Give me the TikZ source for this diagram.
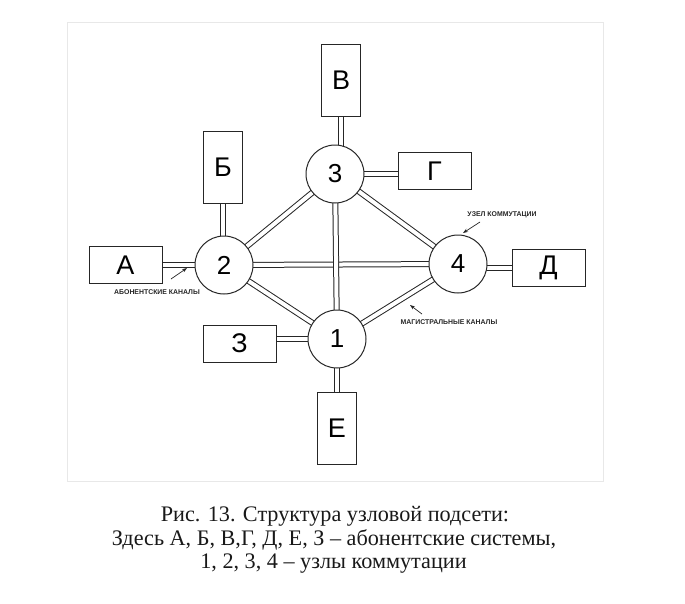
\documentclass[tikz,border=0pt]{standalone}
\usepackage{fontspec}
\setmainfont{Liberation Serif}
\newfontfamily\arialf{Liberation Sans}
\usetikzlibrary{arrows.meta,backgrounds}
\begin{document}
\begin{tikzpicture}[x=1pt,y=-1pt,
  hub/.style={circle, draw=black!85, line width=1pt, fill=white, minimum size=58pt, inner sep=0pt, font=\arialf\fontsize{26}{26}\selectfont},
  tallbox/.style={rectangle, draw=black!85, line width=1pt, fill=white, minimum width=39pt, minimum height=72pt, inner sep=0pt, font=\arialf\fontsize{27}{27}\selectfont},
  widebox/.style={rectangle, draw=black!85, line width=1pt, fill=white, minimum width=73pt, minimum height=37pt, inner sep=0pt, font=\arialf\fontsize{27}{27}\selectfont},
  chan/.style={draw=black!85, line width=1pt, double=white, double distance=4pt},
  note/.style={font=\arialf\bfseries\fontsize{6.9}{7}\selectfont, inner sep=0pt, text=black!85},
  pointer/.style={draw=black!85, line width=0.7pt, -{Stealth[length=5pt,width=3.6pt]}},
  captionline/.style={font=\fontsize{22.2}{24}\selectfont, inner sep=0pt, anchor=base, text=black!90}
]
\useasboundingbox (0,0) rectangle (685,603);

% switching nodes
\node[hub] (n3) at (335,174) {3};
\node[hub] (n2) at (224,265) {2};
\node[hub] (n4) at (458,264) {4};
\node[hub] (n1) at (337,339) {1};

% subscriber systems
\node[tallbox] (nV) at (341,80.5) {В};
\node[tallbox] (nB) at (223,167.5) {Б};
\node[widebox] (nG) at (434.5,171) {Г};
\node[widebox] (nA) at (125.5,265) {А};
\node[widebox] (nD) at (548.5,268) {Д};
\node[widebox] (nZ) at (239.5,343.5) {З};
\node[tallbox] (nE) at (337,428) {Е};

\begin{pgfonlayer}{background}
  \draw[gray!18, line width=1pt] (67,22) rectangle (603,481);
  % trunk channels
  \draw[chan] (n2.center) -- (n3.center);
  \draw[chan] (n3.center) -- (n4.center);
  \draw[chan] (n2.center) -- (n1.center);
  \draw[chan] (n4.center) -- (n1.center);
  \draw[chan] (n2.center) -- (n4.center);
  \draw[chan] (n3.center) -- (n1.center);
  % subscriber channels
  \draw[chan] (nV.center) -- (nV.center |- n3.center);
  \draw[chan] (nB.center) -- (nB.center |- n2.center);
  \draw[chan] (n3.center) -- (n3.center -| nG.center);
  \draw[chan] (nA.center) -- (nA.center -| n2.center);
  \draw[chan] (nD.center) -- (nD.center -| n4.center);
  \draw[chan] (n1.center) -- (n1.center -| nZ.center);
  \draw[chan] (nE.center) -- (nE.center |- n1.center);
\end{pgfonlayer}

% annotations
\node[note] (lA) at (157,292) {АБОНЕНТСКИЕ КАНАЛЫ};
\coordinate (tA) at (171,279);
\coordinate (hA) at (187,268);
\draw[pointer] (tA) -- (hA);

\node[note] (lU) at (502,215) {УЗЕЛ КОММУТАЦИИ};
\coordinate (tU) at (480,222);
\coordinate (hU) at (463,233);
\draw[pointer] (tU) -- (hU);

\node[note] (lM) at (449,322) {МАГИСТРАЛЬНЫЕ КАНАЛЫ};
\coordinate (tM) at (422,314);
\coordinate (hM) at (410,305);
\draw[pointer] (tM) -- (hM);

% caption
\node[captionline] (cap1) at (335,521.7) {Рис. 13. Структура узловой подсети:};
\node[captionline] (cap2) at (334,545) {Здесь А, Б, В,Г, Д, Е, З – абонентские системы,};
\node[captionline] (cap3) at (333.5,568.3) {1, 2, 3, 4 – узлы коммутации};
\end{tikzpicture}
\end{document}
